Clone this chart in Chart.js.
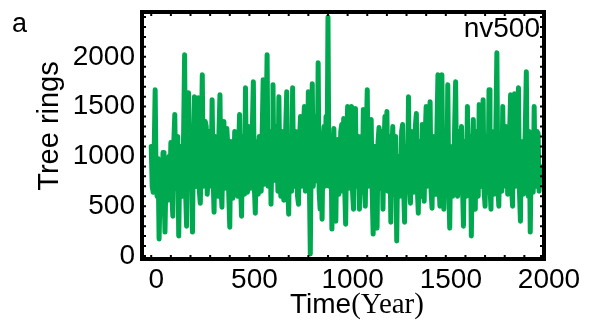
<!DOCTYPE html>
<html>
<head>
<meta charset="utf-8">
<script src="https://cdn.jsdelivr.net/npm/chart.js@4/dist/chart.umd.min.js"></script>
<style>
  html, body { margin: 0; padding: 0; background: #fff; }
  #wrap { width: 592px; height: 322px; position: relative; }
</style>
</head>
<body>
<div id="wrap"><canvas id="c"></canvas></div>
<script>
// tree ring series, one value every 5 years starting at year 0
const startYear = 0;
const yearStep = 5;
const treeRings = [
  1100, 700, 640, 1050, 1670, 750, 600, 980, 170, 620, 900, 560, 1040, 700, 240, 800, 850, 560, 1000, 650,
  1140, 620, 400, 1150, 1420, 680, 700, 1200, 200, 900, 1100, 600, 600, 1250, 2020, 650, 300, 1100, 1640, 700,
  800, 1200, 240, 1100, 1600, 720, 700, 1250, 1590, 650, 530, 1150, 1820, 700, 900, 1350, 1300, 620, 800, 1250,
  1200, 700, 1570, 800, 440, 1200, 900, 650, 600, 1250, 1620, 720, 490, 1100, 1350, 680, 800, 1280, 1100, 600,
  290, 1150, 1000, 580, 700, 1250, 1200, 640, 600, 1100, 1420, 700, 400, 1200, 900, 620, 1690, 750, 640, 1300,
  1200, 680, 900, 1300, 1750, 700, 430, 1150, 1100, 620, 1200, 800, 650, 1250, 1770, 720, 800, 1300, 2020, 700,
  900, 1250, 520, 1100, 1720, 760, 800, 1300, 1200, 650, 1600, 780, 600, 1250, 1000, 560, 600, 1300, 1650, 700,
  420, 1200, 1000, 650, 1690, 750, 700, 1250, 1100, 600, 520, 1150, 1400, 700, 800, 1300, 1500, 650, 1000, 720,
  1650, 800, 20, 1100, 1730, 700, 900, 1300, 1400, 750, 1940, 650, 470, 1100, 370, 1150, 1300, 700, 1400, 800,
  2400, 700, 900, 1200, 270, 1000, 1280, 600, 350, 1100, 1170, 620, 800, 1250, 1320, 650, 1380, 700, 320, 1100,
  1500, 680, 700, 1250, 1500, 650, 470, 1150, 1480, 700, 800, 1200, 470, 1100, 1200, 640, 1470, 720, 500, 1200,
  1670, 700, 900, 1250, 1370, 650, 220, 1100, 1100, 600, 280, 1150, 1290, 680, 800, 1250, 470, 1100, 1400, 700,
  1450, 650, 700, 1200, 340, 1050, 1300, 620, 900, 1200, 150, 1000, 1000, 600, 700, 1250, 1320, 700, 340, 1100,
  1100, 650, 1600, 720, 530, 1250, 1200, 640, 800, 1300, 1430, 680, 430, 1150, 1000, 600, 1320, 700, 550, 1200,
  1500, 700, 900, 1250, 1550, 650, 480, 1200, 1100, 620, 700, 1300, 1820, 750, 500, 1250, 1820, 700, 470, 1150,
  1200, 650, 1720, 700, 280, 1100, 1000, 600, 700, 1300, 1750, 720, 600, 1250, 1100, 640, 1300, 700, 300, 1150,
  1100, 600, 1500, 680, 700, 1200, 200, 1000, 1370, 650, 470, 1250, 1000, 600, 1520, 720, 700, 1300, 1570, 650,
  500, 1200, 1100, 640, 1670, 700, 470, 1250, 1200, 620, 700, 1300, 2040, 700, 500, 1200, 1100, 650, 1500, 700,
  800, 1300, 1200, 620, 700, 1250, 1620, 680, 500, 1200, 1630, 700, 900, 1300, 1690, 650, 350, 1150, 1100, 620,
  900, 1300, 1850, 700, 600, 1250, 240, 1000, 1100, 640, 1500, 700, 700, 1250, 1230, 650, 900
];
const xTicks = [0, 500, 1000, 1500, 2000];
const yTicks = [0, 500, 1000, 1500, 2000];

const points = treeRings.map((v, i) => ({ x: startYear + i * yearStep, y: v }));

const SANS = '"Liberation Sans", Arial, sans-serif';
const SERIF = '"Liberation Serif", "Times New Roman", serif';
Chart.defaults.font.family = SANS;
Chart.defaults.color = '#000';

// frame, inward minor ticks and the text pieces that mix fonts
const decorPlugin = {
  id: 'decor',
  afterDraw(chart) {
    const { ctx, chartArea: a, scales } = chart;
    const xs = scales.x, ys = scales.y;
    ctx.save();
    ctx.strokeStyle = '#000';
    ctx.lineWidth = 2;
    for (let v = 0; v <= 2000; v += 100) {
      const px = xs.getPixelForValue(v);
      if (px > a.right - 4) continue;
      ctx.beginPath();
      ctx.moveTo(px, a.bottom); ctx.lineTo(px, a.bottom - 4);
      ctx.moveTo(px, a.top); ctx.lineTo(px, a.top + 4);
      ctx.stroke();
    }
    for (let v = 0; v <= 2400; v += 100) {
      const py = ys.getPixelForValue(v);
      ctx.beginPath();
      ctx.moveTo(a.left, py); ctx.lineTo(a.left + 4, py);
      ctx.moveTo(a.right, py); ctx.lineTo(a.right - 4, py);
      ctx.stroke();
    }
    ctx.lineWidth = 4;
    ctx.strokeRect(a.left, a.top, a.right - a.left, a.bottom - a.top);

    ctx.fillStyle = '#000';
    ctx.textBaseline = 'alphabetic';
    // panel letter
    ctx.font = '27px ' + SANS;
    ctx.textAlign = 'left';
    ctx.fillText('a', 12, 32);
    // series name
    ctx.font = '28px ' + SANS;
    ctx.textAlign = 'right';
    ctx.fillText('nv500', a.right - 4, 37);
    // x title: sans + serif
    ctx.textAlign = 'left';
    ctx.font = '28px ' + SANS;
    ctx.fillText('Time', 290, 313);
    const w = ctx.measureText('Time').width;
    ctx.font = '29px ' + SERIF;
    ctx.fillText('(Year)', 290 + w, 313);
    // y title
    ctx.translate(58, 126);
    ctx.rotate(-Math.PI / 2);
    ctx.textAlign = 'center';
    ctx.font = '29px ' + SANS;
    ctx.fillText('Tree rings', 0, 0);
    ctx.restore();
  }
};

new Chart(document.getElementById('c'), {
  type: 'line',
  data: {
    datasets: [{
      data: points,
      borderColor: '#00A94F',
      borderWidth: 5,
      borderCapStyle: 'round',
      borderJoinStyle: 'round',
      pointRadius: 0,
      tension: 0,
      fill: false
    }]
  },
  options: {
    responsive: true,
    maintainAspectRatio: false,
    animation: false,
    layout: { padding: { left: 0, right: 48, top: 12, bottom: 0 } },
    plugins: { legend: { display: false }, tooltip: { enabled: false } },
    scales: {
      x: {
        type: 'linear',
        min: -47,
        max: 2000,
        afterBuildTicks: s => { s.ticks = xTicks.map(v => ({ value: v })); },
        afterFit: s => { s.height = 63; s.paddingLeft = 0; s.paddingRight = 0; },
        grid: { display: false, drawTicks: false },
        border: { display: false },
        ticks: { font: { size: 28 }, padding: 4, labelOffset: 5, maxRotation: 0, autoSkip: false, callback: v => String(v) }
      },
      y: {
        min: -30,
        max: 2450,
        afterBuildTicks: s => { s.ticks = yTicks.map(v => ({ value: v })); },
        afterFit: s => { s.width = 142; s.paddingTop = 0; s.paddingBottom = 0; },
        grid: { display: false, drawTicks: false },
        border: { display: false },
        ticks: { font: { size: 28 }, padding: 7, autoSkip: false, callback: v => String(v) }
      }
    }
  },
  plugins: [decorPlugin]
});
</script>
</body>
</html>
